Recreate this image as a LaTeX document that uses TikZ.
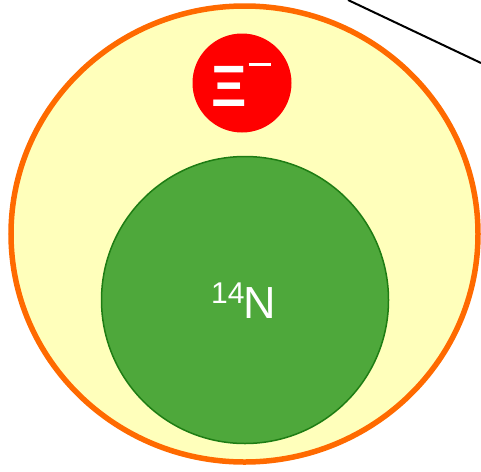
\documentclass[tikz,border=0pt]{standalone}
\usepackage{fontspec}
\usetikzlibrary{shapes.geometric}
\setmainfont{Liberation Sans}
\definecolor{shellyellow}{HTML}{FFFFBB}
\definecolor{shellorange}{HTML}{FF6A00}
\definecolor{nucgreen}{HTML}{4EA83B}
\definecolor{nucedge}{HTML}{1E7D14}
\begin{document}
\begin{tikzpicture}[x=1pt,y=-1pt,
  shell/.style={ellipse,fill=shellyellow,draw=shellorange,line width=5.5pt,inner sep=0pt,minimum width=467pt,minimum height=456pt},
  xiball/.style={circle,fill=red,draw=none,inner sep=0pt,minimum size=99pt},
  nucleus/.style={circle,fill=nucgreen,draw=nucedge,line width=1.5pt,inner sep=0pt,minimum size=287pt},
  lbl/.style={text=white,inner sep=0pt,anchor=base west}]
\useasboundingbox (0,0) rectangle (481,471);
\node[shell] (atom) at (244.5,234) {};
\node[xiball] (xi) at (242,83) {};
\node[nucleus] (n14) at (245,300) {};
\node[lbl] (xilabel) at (211,106) {\scalebox{1}[1.06]{\fontsize{55pt}{55pt}\selectfont\bfseries Ξ}\hspace{2pt}\raisebox{40pt}{\rule{22pt}{3pt}}};
\node[lbl] (nlabel) at (211,318) {\raisebox{15pt}{\fontsize{30pt}{30pt}\selectfont 14}\hspace{-1pt}\fontsize{45pt}{45pt}\selectfont N};
\coordinate (lineA) at (348,0);
\coordinate (lineB) at (481,63);
\draw[line width=2pt] (lineA) -- (lineB);
\end{tikzpicture}
\end{document}
